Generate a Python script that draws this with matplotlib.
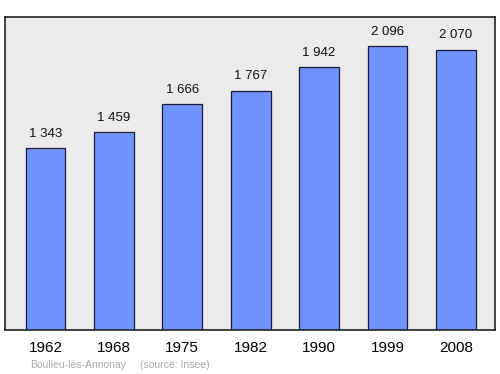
import matplotlib.pyplot as plt

plt.rcParams["font.family"] = ["Liberation Sans", "DejaVu Sans"]

YEARS = ["1962", "1968", "1975", "1982", "1990", "1999", "2008"]
POPULATION = [1343, 1459, 1666, 1767, 1942, 2096, 2070]
COMMUNE = "Boulieu-lès-Annonay"
SOURCE = "(source: Insee)"


def fmt(v):
    return f"{v:,}".replace(",", " ")


fig = plt.figure(figsize=(5, 3.74), dpi=100)
ax = fig.add_axes([0.01, 0.1176, 0.98, 0.837])
ax.set_facecolor("#ebebeb")

x = range(len(YEARS))
bars = ax.bar(x, POPULATION, width=0.58, color="#7094ff",
              edgecolor="#1a1a33", linewidth=0.9)

for bar, v in zip(bars, POPULATION):
    ax.annotate(fmt(v), xy=(bar.get_x() + bar.get_width() / 2, v),
                xytext=(0, 6), textcoords="offset points",
                ha="center", va="bottom", fontsize=9.5, color="#111")

ax.set_xlim(-0.59, 6.57)
ax.set_ylim(0, 2310)
ax.set_xticks(list(x))
ax.set_xticklabels(YEARS, fontsize=11)
ax.tick_params(axis="x", length=0, pad=8)
ax.set_yticks([])
for s in ax.spines.values():
    s.set_linewidth(1.2)
    s.set_color("#222")

fig.text(0.06, 0.024, COMMUNE, fontsize=7.5, color="#aaaaaa", va="center")
fig.text(0.28, 0.024, SOURCE, fontsize=7.5, color="#aaaaaa", va="center")

fig.savefig("out.png", dpi=100)
